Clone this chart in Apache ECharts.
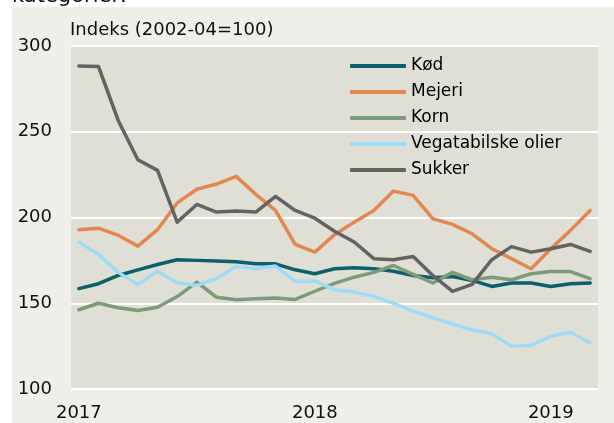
<!DOCTYPE html>
<html>
<head>
<meta charset="utf-8">
<script src="https://cdn.jsdelivr.net/npm/echarts@6/dist/echarts.min.js"></script>
<style>
  html, body { margin: 0; padding: 0; background: #ffffff; }
  .wrap { position: relative; width: 614px; height: 423px; overflow: hidden; }
  .panel { position: absolute; left: 12px; top: 7px; right: 0; bottom: 0; background: #efeee8; }
  #chart { position: absolute; left: 0; top: 0; width: 614px; height: 423px; }
</style>
</head>
<body>
<div class="wrap">
  <div class="panel"></div>
  <div id="chart"></div>
</div>
<script>
// månedlige indeks, jan 2017 - mar 2019
const months = [
  '2017-01','2017-02','2017-03','2017-04','2017-05','2017-06','2017-07','2017-08','2017-09','2017-10','2017-11','2017-12',
  '2018-01','2018-02','2018-03','2018-04','2018-05','2018-06','2018-07','2018-08','2018-09','2018-10','2018-11','2018-12',
  '2019-01','2019-02','2019-03'
];
const yearTicks = [0, 12, 24];
const yearLabels = ['2017', '2018', '2019'];

const kod = [158.5, 161.4, 166.2, 169.5, 172.6, 175.4, 175, 174.6, 174.2, 173, 173, 169.5,
  167.2, 170.1, 170.7, 170.1, 168.7, 166.2, 164.9, 165.6, 163.3, 159.8, 161.8, 161.8,
  159.8, 161.4, 161.8];
const mejeri = [192.9, 193.8, 189.6, 183.3, 192.9, 208.5, 216.5, 219.5, 224, 213.5, 204.1, 184.3,
  179.8, 190, 197.3, 204.1, 215.4, 212.9, 199.3, 196, 190.5, 181.8, 176, 170.1,
  181.8, 192.5, 204.1];
const korn = [146.2, 150, 147.4, 145.8, 147.7, 153.9, 162.3, 153.5, 152, 152.6, 153, 152.2,
  157, 161.6, 165.2, 168, 172, 166.8, 161.8, 168, 163.7, 165.2, 163.7, 167.2,
  168.5, 168.5, 164.3];
const olier = [185.7, 178.5, 168, 161, 168.7, 162, 160.4, 164.3, 171.5, 170.1, 171.7, 162.9,
  163, 157.9, 156.5, 154, 150, 145.4, 141.5, 138, 134.5, 132.2, 125, 125.4,
  130.8, 133.1, 127];
const sukker = [288.3, 288, 256.6, 233.7, 227.5, 197.3, 207.6, 203.2, 203.8, 203.2, 212.3, 204.1,
  199.6, 192, 185.7, 176, 175.4, 177.3, 166.2, 156.9, 161, 175.4, 183, 179.8,
  181.8, 184.3, 180.2];

const font = 'DejaVu Sans';

const mkSeries = (name, values, color) => ({
  name: name,
  type: 'line',
  data: values.map((v, i) => [i, v]),
  symbol: 'none',
  lineStyle: { color: color, width: 3.5, cap: 'round', join: 'round' },
  itemStyle: { color: color },
  emphasis: { disabled: true }
});

const myChart = echarts.init(document.getElementById('chart'));
const option = {
  animation: false,
  textStyle: { fontFamily: font },
  grid: {
    left: 71, right: 16, top: 46, bottom: 34,
    show: true,
    backgroundColor: '#e0dfd6',
    borderWidth: 0
  },
  legend: {
    orient: 'vertical',
    left: 345,
    top: 51,
    icon: 'roundRect',
    itemWidth: 56,
    itemHeight: 4,
    itemGap: 6,
    textStyle: { fontSize: 17, lineHeight: 20, color: '#000', fontFamily: font },
    data: ['Kød', 'Mejeri', 'Korn', 'Vegatabilske olier', 'Sukker']
  },
  xAxis: {
    type: 'value',
    min: -0.4,
    max: 26.4,
    axisLine: { show: false },
    axisTick: { show: false },
    splitLine: { show: false },
    axisLabel: {
      customValues: yearTicks,
      formatter: (v) => yearLabels[yearTicks.indexOf(v)] || '',
      fontSize: 18,
      color: '#111',
      margin: 15,
      fontFamily: font
    }
  },
  yAxis: {
    type: 'value',
    min: 100,
    max: 300,
    interval: 50,
    axisLine: { show: false },
    axisTick: { show: false },
    axisLabel: { fontSize: 18, color: '#111', margin: 19, fontFamily: font },
    splitLine: { lineStyle: { color: '#ffffff', width: 2 } }
  },
  graphic: [
    {
      type: 'text',
      left: 70,
      top: 21,
      style: { text: 'Indeks (2002-04=100)', fontSize: 18, fontFamily: font, fill: '#111' }
    },
    {
      type: 'text',
      left: 12,
      top: -14,
      style: { text: 'kategorier:', fontSize: 21, fontFamily: font, fill: '#111' }
    }
  ],
  series: [
    mkSeries('Kød', kod, '#0c5f6c'),
    mkSeries('Mejeri', mejeri, '#e2874f'),
    mkSeries('Korn', korn, '#7d9b78'),
    mkSeries('Vegatabilske olier', olier, '#a0dbf6'),
    mkSeries('Sukker', sukker, '#636363')
  ]
};
myChart.setOption(option);
window.addEventListener('resize', () => myChart.resize());
</script>
</body>
</html>
